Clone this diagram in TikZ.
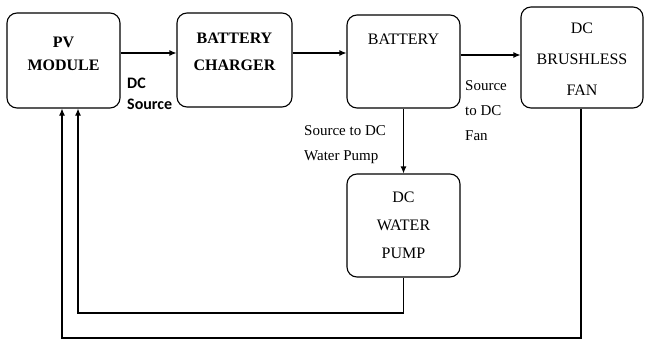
\documentclass[tikz,border=0pt]{standalone}
\usepackage{fontspec}
\setmainfont{LiberationSerif}[Extension=.ttf, UprightFont=*-Regular, BoldFont=*-Bold, ItalicFont=*-Italic, BoldItalicFont=*-BoldItalic]
\newfontfamily\labsans{Carlito}
\usetikzlibrary{arrows.meta}
\begin{document}
\begin{tikzpicture}[x=1pt,y=-1pt,
  box/.style={draw, rounded corners=10pt, line width=1.1pt, inner sep=0pt},
  conn/.style={line width=1.1pt},
  arr/.style={conn, -{Latex[length=7pt,width=6pt]}},
  boldtxt/.style={font=\fontsize{16}{23}\selectfont\bfseries, align=center, inner sep=0pt},
  plaintxt/.style={font=\fontsize{16}{30}\selectfont, align=center, inner sep=0pt},
  lab/.style={font=\fontsize{15}{25}\selectfont, align=left, inner sep=0pt, anchor=north west},
]
\useasboundingbox (0,0) rectangle (645,340);

% boxes
\node[box, minimum width=113pt, minimum height=95pt] (pv) at (63.5,60.5) {};
\node[box, minimum width=115pt, minimum height=94pt] (chg) at (234.5,60) {};
\node[box, minimum width=113pt, minimum height=93pt] (bat) at (403.5,61.5) {};
\node[box, minimum width=122pt, minimum height=101pt] (fan) at (582,57.5) {};
\node[box, minimum width=113pt, minimum height=103pt] (pump) at (403.5,225.5) {};

% box texts
\node[boldtxt] (pvt) at (63.5,54) {PV\\MODULE};
\node[boldtxt, font=\fontsize{16}{27}\selectfont\bfseries] (chgt) at (234.5,52) {BATTERY\\CHARGER};
\node[plaintxt] (batt) at (403.5,39) {BATTERY};
\node[plaintxt, font=\fontsize{16}{31}\selectfont] (fant) at (582,59) {DC\\BRUSHLESS\\FAN};
\node[plaintxt, font=\fontsize{16}{28}\selectfont] (pumpt) at (403.5,225) {DC\\WATER\\PUMP};

% labels
\node[lab, font=\labsans\bfseries\fontsize{16}{21}\selectfont] (l1) at (127,78) {DC\\Source};
\node[lab] (l2) at (304,125) {Source to DC\\Water Pump};
\node[lab] (l3) at (465,80) {Source\\to DC\\Fan};

% connectors
\path ([yshift=7.5pt]pv.east) coordinate (a1);
\draw[arr] (a1) -- (a1 -| chg.west);
\path ([yshift=7pt]chg.east) coordinate (a2);
\draw[arr] (a2) -- (a2 -| bat.west);
\path ([yshift=6.5pt]bat.east) coordinate (a3);
\draw[arr] (a3) -- (a3 -| fan.west);
\draw[arr] (bat.south) -- (pump.north);
\coordinate (c1) at (78,313);
\draw[arr] (pump.south) |- (c1) -- (c1 |- pv.south);
\coordinate (c2) at (62,338);
\draw[arr] ([xshift=-1pt]fan.south) |- (c2) -- (c2 |- pv.south);
\end{tikzpicture}
\end{document}
